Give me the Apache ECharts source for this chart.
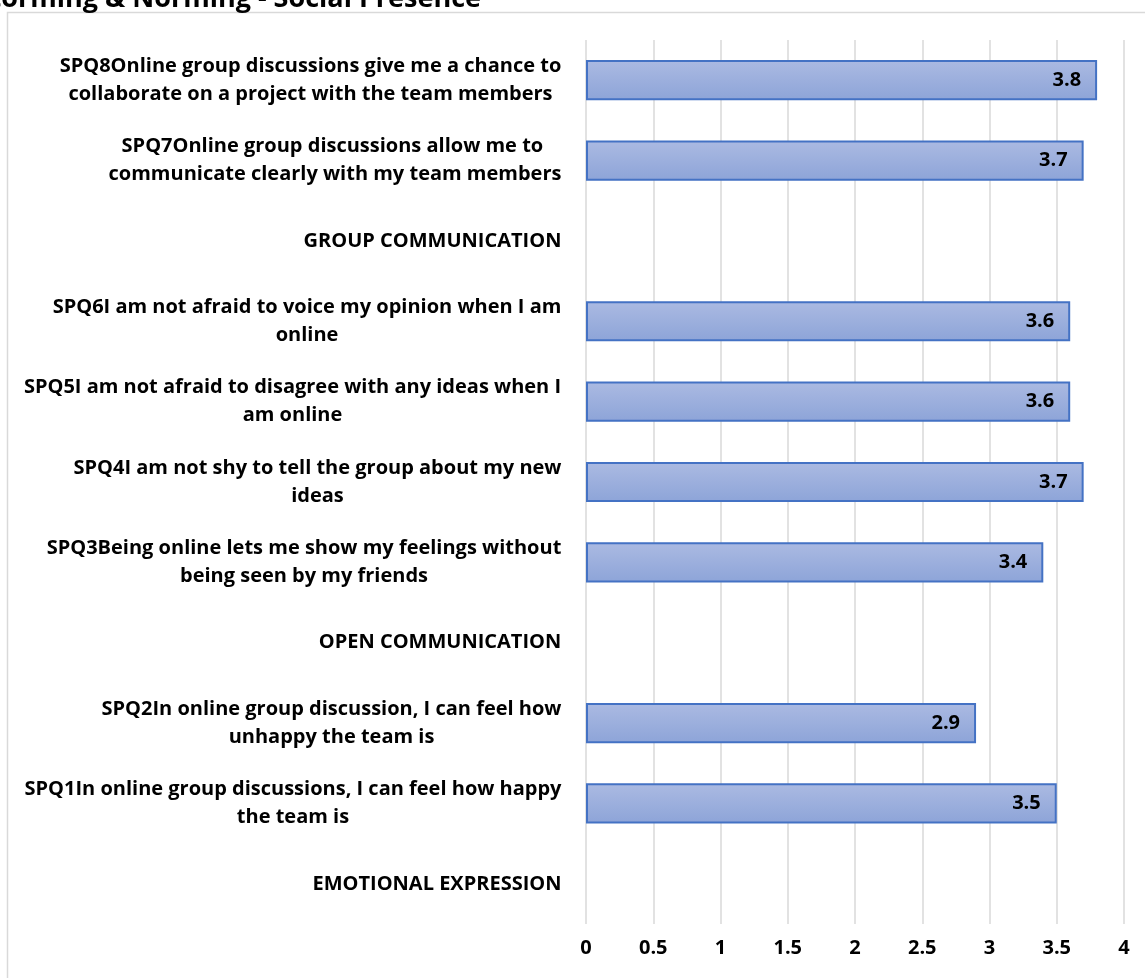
<!DOCTYPE html>
<html>
<head>
<meta charset="utf-8">
<script src="https://cdn.jsdelivr.net/npm/echarts@6/dist/echarts.min.js"></script>
<style>
  html, body { margin: 0; padding: 0; background: #fff; }
  #chart { width: 1145px; height: 978px; }
</style>
</head>
<body>
<div id="chart"></div>
<script>
// Survey items, top to bottom, with section headings as empty rows
const categories = [
  'SPQ8Online group discussions give me a chance to\ncollaborate on a project with the team members',
  'SPQ7Online group discussions allow me to \ncommunicate clearly with my team members',
  'GROUP COMMUNICATION',
  'SPQ6I am not afraid to voice my opinion when I am\nonline',
  'SPQ5I am not afraid to disagree with any ideas when I\nam online',
  'SPQ4I am not shy to tell the group about my new\nideas',
  'SPQ3Being online lets me show my feelings without\nbeing seen by my friends',
  'OPEN COMMUNICATION',
  'SPQ2In online group discussion, I can feel how\nunhappy the team is',
  'SPQ1In online group discussions, I can feel how happy\nthe team is',
  'EMOTIONAL EXPRESSION'
];
// Mean scores (headings have no value)
const meanScores = [3.8, 3.7, null, 3.6, 3.6, 3.7, 3.4, null, 2.9, 3.5, null];
const xTicks = [0, 0.5, 1, 1.5, 2, 2.5, 3, 3.5, 4];
const chartTitle = 'Storming & Norming - Social Presence';

const FONT = '"Open Sans"';
const LABEL_SIZE = 20;

// Each category label is centred line by line inside a box as wide as its longest line
const measureCtx = document.createElement('canvas').getContext('2d');
measureCtx.font = 'bold ' + LABEL_SIZE + 'px ' + FONT;
const rich = {};
categories.forEach(function (c, i) {
  const w = Math.max.apply(null, c.split('\n').map(function (s) {
    return measureCtx.measureText(s).width;
  }));
  rich['c' + i] = {
    width: Math.ceil(w) + 1,
    align: 'center',
    fontFamily: FONT,
    fontWeight: 'bold',
    fontSize: LABEL_SIZE,
    lineHeight: 28,
    color: '#000'
  };
});

const chart = echarts.init(document.getElementById('chart'), null, { renderer: 'canvas' });

chart.setOption({
  animation: false,
  backgroundColor: '#fff',
  textStyle: { fontFamily: FONT },
  graphic: [
    {
      type: 'rect',
      silent: true,
      z: -10,
      shape: { x: 7.5, y: 12.5, width: 1400, height: 1200 },
      style: { fill: 'none', stroke: '#D9D9D9', lineWidth: 1.5 }
    },
    {
      type: 'text',
      silent: true,
      x: 481,
      y: 13,
      style: {
        text: chartTitle,
        align: 'right',
        verticalAlign: 'bottom',
        fontFamily: FONT,
        fontWeight: 'bold',
        fontSize: 27,
        fill: '#000'
      }
    }
  ],
  grid: { left: 586, right: 21, top: 40, bottom: 54, containLabel: false },
  xAxis: {
    type: 'value',
    min: 0,
    max: 4,
    interval: 0.5,
    axisLine: { show: false },
    axisTick: { show: false },
    splitLine: { show: true, lineStyle: { color: '#D9D9D9', width: 1.5 } },
    axisLabel: {
      margin: 14,
      fontFamily: FONT,
      fontWeight: 'bold',
      fontSize: 20,
      color: '#000',
      formatter: function (v) { return String(v); }
    }
  },
  yAxis: {
    type: 'category',
    inverse: true,
    data: categories,
    axisLine: { show: false },
    axisTick: { show: false },
    splitLine: { show: false },
    axisLabel: {
      margin: 24,
      interval: 0,
      align: 'right',
      formatter: function (v, i) { return '{c' + i + '|' + v + '}'; },
      rich: rich
    }
  },
  series: [{
    type: 'bar',
    data: meanScores,
    barCategoryGap: '50%',
    itemStyle: {
      color: new echarts.graphic.LinearGradient(0, 0, 0, 1, [
        { offset: 0, color: '#ABBAE2' },
        { offset: 1, color: '#8DA4D8' }
      ]),
      borderColor: '#4472C4',
      borderWidth: 2
    },
    label: {
      show: true,
      position: 'insideRight',
      distance: 16,
      fontFamily: FONT,
      fontWeight: 'bold',
      fontSize: 20,
      color: '#000',
      formatter: function (p) { return p.value.toFixed(1); }
    }
  }]
});
</script>
</body>
</html>
